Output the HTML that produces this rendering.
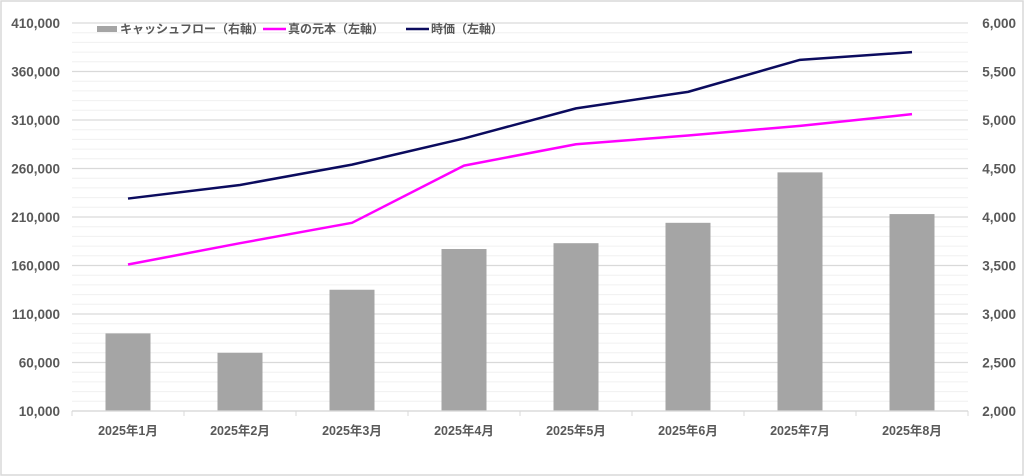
<!DOCTYPE html>
<html><head><meta charset="utf-8"><style>
body{margin:0;background:#fff;}
svg{display:block;font-family:"Liberation Sans","Noto Sans CJK JP",sans-serif;}
</style></head><body>
<svg id="chart" width="1024" height="476">
<rect x="1" y="1" width="1022" height="474" fill="#fff" stroke="#d9d9d9" stroke-width="1.5"/>
<g id="grid"></g><g id="bars"></g><g id="lines"></g><g id="axes"></g>
<g font-size="12" font-weight="bold" fill="#595959">
<g><rect x="97" y="26" width="20" height="6" fill="#a5a5a5"/><text x="120" y="33">キャッシュフロー（右軸）</text></g>
<g><line x1="263" y1="29" x2="286" y2="29" stroke="#ff00ff" stroke-width="2.5"/><text x="288" y="33">真の元本（左軸）</text></g>
<g><line x1="406" y1="29" x2="429" y2="29" stroke="#0b0b5e" stroke-width="2.5"/><text x="431" y="33">時価（左軸）</text></g>
</g>
</svg>
<script>
const categories=["2025年1月","2025年2月","2025年3月","2025年4月","2025年5月","2025年6月","2025年7月","2025年8月"];
const cashflow=[2800,2600,3250,3670,3730,3940,4460,4030];
const principal=[161000,183000,204000,263000,285000,294000,304000,316000];
const marketValue=[229000,243000,264000,291000,322000,339000,372000,380000];
const leftTicks=[10000,60000,110000,160000,210000,260000,310000,360000,410000];
const rightTicks=[2000,2500,3000,3500,4000,4500,5000,5500,6000];
const NS="http://www.w3.org/2000/svg";
const X0=72,X1=968,Y0=411,Y1=23;
const yL=v=>Y0-(v-10000)/400000*(Y0-Y1);
const yR=v=>Y0-(v-2000)/4000*(Y0-Y1);
const step=(X1-X0)/categories.length;
const xC=i=>X0+step*(i+0.5);
function mk(t,a,p){const e=document.createElementNS(NS,t);for(const k in a)e.setAttribute(k,a[k]);document.getElementById(p).appendChild(e);return e;}
for(let v=10000;v<=410000;v+=10000){
 const major=(v-10000)%50000===0;
 const l=mk("line",{x1:X0,x2:X1,y1:yL(v),y2:yL(v),stroke:major?"#d9d9d9":"#f0f0f0","stroke-width":major?1.2:1},"grid");
 
 
}
cashflow.forEach((v,i)=>{
 const r=mk("rect",{x:xC(i)-22.5,y:yR(v),width:45,height:Y0-yR(v),fill:"#a5a5a5"},"bars");
 
 
});
function line(arr,color,name){
 const p=mk("polyline",{points:arr.map((v,i)=>xC(i)+","+yL(v)).join(" "),fill:"none",stroke:color,"stroke-width":2.5,"stroke-linejoin":"round"},"lines");
 
 
}
line(principal,"#ff00ff","principal-line");
line(marketValue,"#0b0b5e","market-value-line");
const ax=mk("line",{x1:X0,x2:X1,y1:Y0,y2:Y0,stroke:"#d9d9d9","stroke-width":1.2},"axes");


for(let i=0;i<=categories.length;i++){
 const t=mk("line",{x1:X0+step*i,x2:X0+step*i,y1:Y0,y2:Y0+5,stroke:"#d9d9d9"},"axes");
 
 
}
const sty={"font-size":12.5,"font-weight":"bold",fill:"#595959"};
categories.forEach((c,i)=>{
 const t=mk("text",Object.assign({x:xC(i),y:435,"text-anchor":"middle"},sty),"axes");
 t.textContent=c;
 
 
});
leftTicks.forEach(v=>{
 const t=mk("text",Object.assign({x:60,y:yL(v)+5,"text-anchor":"end","font-size":13.5},{"font-weight":"bold",fill:"#595959"}),"axes");
 t.textContent=v.toLocaleString("en-US");
 
 
});
rightTicks.forEach(v=>{
 const t=mk("text",Object.assign({x:1016,y:yR(v)+5,"text-anchor":"end","font-size":13.5},{"font-weight":"bold",fill:"#595959"}),"axes");
 t.textContent=v.toLocaleString("en-US");
 
 
});
</script>
</body></html>
